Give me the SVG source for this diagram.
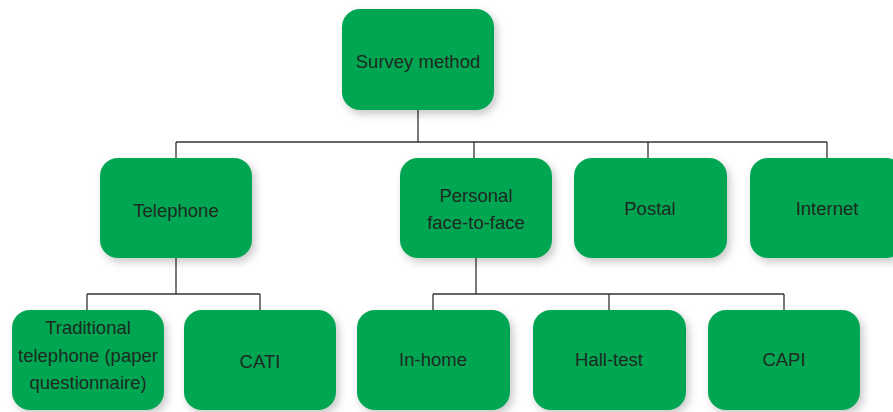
<svg xmlns="http://www.w3.org/2000/svg" width="893" height="412" viewBox="0 0 893 412">
<style>
.box{fill:#00A651;filter:url(#sh)}
.t{font-family:"Liberation Sans",Arial,sans-serif;font-size:18.5px;fill:#1e2a22;text-anchor:middle;dominant-baseline:central}
.c{fill:none;stroke:#333;stroke-width:1.3}
</style>
<defs>
<filter id="sh" x="-20%" y="-20%" width="140%" height="140%">
<feDropShadow dx="3" dy="4" stdDeviation="4" flood-color="#000" flood-opacity="0.22"/>
</filter>
</defs>
<rect width="893" height="412" fill="#fff"/>
<g id="connectors">
<path class="c" d="M418 110V142M176 142H827M176 142V158M474 142V158M648 142V158M827 142V158"/>
<path class="c" d="M176 258V294M87 294H260M87 294V310M260 294V310"/>
<path class="c" d="M476 258V294M433 294H784M433 294V310M609 294V310M784 294V310"/>
</g>
<g id="survey"><rect class="box" x="342" y="9" width="152" height="101" rx="18"/><text class="t" x="418" y="61">Survey method</text></g>
<g id="telephone"><rect class="box" x="100" y="158" width="152" height="100" rx="18"/><text class="t" x="176" y="210">Telephone</text></g>
<g id="personal"><rect class="box" x="400" y="158" width="152" height="100" rx="18"/><text class="t" x="476" y="195">Personal</text><text class="t" x="476" y="222">face-to-face</text></g>
<g id="postal"><rect class="box" x="574" y="158" width="153" height="100" rx="18"/><text class="t" x="650" y="208">Postal</text></g>
<g id="internet"><rect class="box" x="750" y="158" width="154" height="100" rx="18"/><text class="t" x="827" y="208">Internet</text></g>
<g id="traditional"><rect class="box" x="12" y="310" width="152" height="100" rx="18"/><text class="t" x="88" y="327">Traditional</text><text class="t" x="88" y="355">telephone (paper</text><text class="t" x="88" y="382">questionnaire)</text></g>
<g id="cati"><rect class="box" x="184" y="310" width="152" height="100" rx="18"/><text class="t" x="260" y="361">CATI</text></g>
<g id="inhome"><rect class="box" x="357" y="310" width="153" height="100" rx="18"/><text class="t" x="433" y="359">In-home</text></g>
<g id="halltest"><rect class="box" x="533" y="310" width="153" height="100" rx="18"/><text class="t" x="609" y="359">Hall-test</text></g>
<g id="capi"><rect class="box" x="708" y="310" width="152" height="100" rx="18"/><text class="t" x="784" y="359">CAPI</text></g>
</svg>
